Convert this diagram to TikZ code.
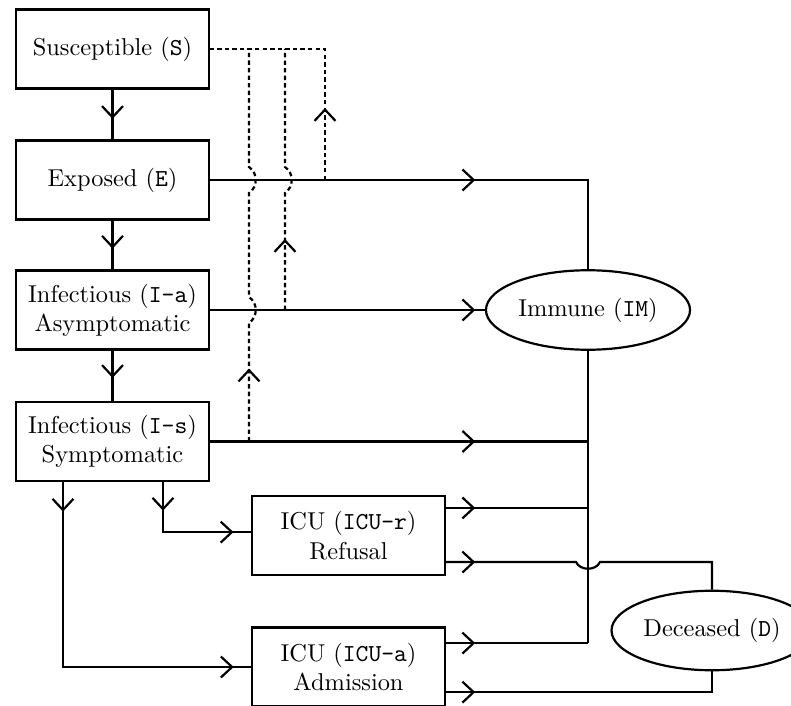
\documentclass[tikz,border=0pt]{standalone}
\usetikzlibrary{shapes.geometric,arrows.meta,decorations.markings}
\begin{document}
\begin{tikzpicture}[x=0.41pt,y=-0.41pt, line width=0.9pt,
  >={Straight Barb[length=4.6pt,width=8.6pt]},
  box/.style={draw, rectangle, minimum width=79.2pt, minimum height=32.4pt, align=center, inner sep=2pt},
  oval/.style={draw, ellipse, minimum width=73.8pt, minimum height=32.6pt, inner sep=1pt},
  tipafter/.style={postaction={decorate,decoration={markings,mark=at position #1 with {\arrow{>}}}}},
  dotline/.style={dash pattern=on 1.8pt off 1.3pt}]
\useasboundingbox (0,0) rectangle (791,706);
% nodes
\node[box] (S) at (112.5,49) {Susceptible (\texttt{S})};
\node[box] (E) at (112.5,180) {Exposed (\texttt{E})};
\node[box] (Ia) at (112.5,310) {Infectious (\texttt{I-a})\\Asymptomatic};
\node[box] (Is) at (112.5,441.5) {Infectious (\texttt{I-s})\\Symptomatic};
\node[box] (ICUr) at (348.5,535.5) {ICU (\texttt{ICU-r})\\Refusal};
\node[box] (ICUa) at (348.5,667) {ICU (\texttt{ICU-a})\\Admission};
\node[oval] (IM) at (588,310) {Immune (\texttt{IM})};
\node[oval, minimum width=75.4pt] (D) at (712,630.5) {Deceased (\texttt{D})};
% junction coordinates
\coordinate (rin) at ([yshift=1.4pt]ICUr.west);
\coordinate (rout1) at ([yshift=11.3pt]ICUr.east);
\coordinate (rout2) at ([yshift=-10.9pt]ICUr.east);
\coordinate (aout1) at ([yshift=9.8pt]ICUa.east);
\coordinate (aout2) at ([yshift=-10.3pt]ICUa.east);
\coordinate (j1) at (325,180);
\coordinate (j2) at (285,310);
\coordinate (j3) at (249,441.5);
% vertical chain
\draw[tipafter=12pt] (S) -- (E);
\draw[tipafter=11.5pt] (E) -- (Ia);
\draw[tipafter=11.2pt] (Ia) -- (Is);
% to immune
\draw[tipafter=108.7pt] (E.east) -- (588,180) -- (IM.north);
\draw[tipafter=108.7pt] (Ia.east) -- (IM.west);
\draw[tipafter=108.7pt] (Is.east) -- (Is.east -| IM.south);
\draw (IM.south) -- (IM.south |- aout1);
\draw[tipafter=11.9pt] (rout1) -- (rout1 -| IM.south);
\draw[tipafter=11.9pt] (aout1) -- (aout1 -| IM.south);
% to deceased
\draw[tipafter=11.9pt] (rout2) -- (576,562) .. controls (580,571) and (596,571) .. (600,562) -- (712,562) -- (D.north);
\draw[tipafter=11.9pt] (aout2) -- (aout2 -| D.south) -- (D.south);
% to ICU
\draw[tipafter=11.7pt, tipafter=49.4pt] ([xshift=20.7pt]Is.south) |- (rin);
\draw[tipafter=12.1pt, tipafter=145.8pt] ([xshift=-20.3pt]Is.south) |- (ICUa.west);
% dashed infection links
\draw[dotline, tipafter=29.5pt] (j1) |- (S.east);
\draw[dotline, tipafter=29.1pt] (j2) -- (285,193) .. controls (294,187) and (294,173) .. (285,167) -- (285,49);
\draw[dotline, tipafter=29.9pt] (j3) -- (249,323) .. controls (258,317) and (258,303) .. (249,297) -- (249,193) .. controls (258,187) and (258,173) .. (249,167) -- (249,49);
\end{tikzpicture}
\end{document}
